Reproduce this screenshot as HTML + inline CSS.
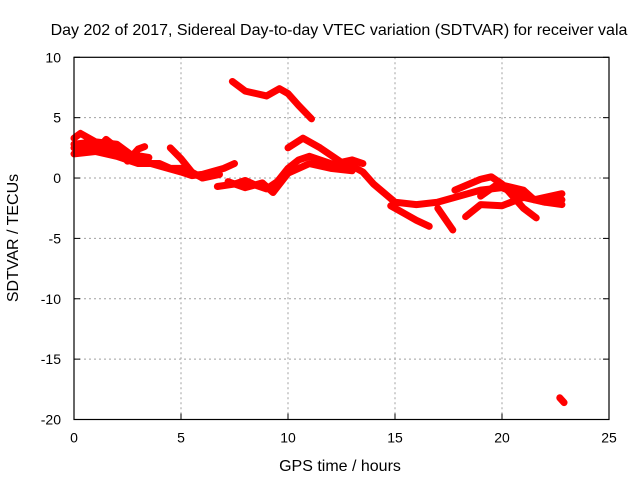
<!DOCTYPE html>
<html><head><meta charset="utf-8"><style>
body{margin:0;background:#fff;}
svg{display:block;font-family:"Liberation Sans",sans-serif;}
</style></head><body>
<svg id="chart" width="640" height="480">
<text x="339" y="35" text-anchor="middle" font-size="16">Day 202 of 2017, Sidereal Day-to-day VTEC variation (SDTVAR) for receiver vala</text>
<text x="340" y="471" text-anchor="middle" font-size="16">GPS time / hours</text>
<text transform="translate(18,238) rotate(-90)" text-anchor="middle" font-size="16">SDTVAR / TECUs</text>
<g id="grid"></g><g id="series"></g><g id="axes"></g>
</svg>
<script>
const xTicks=[0,5,10,15,20,25];
const yTicks=[10,5,0,-5,-10,-15,-20];
const trackTopT=[7.4,8,8.5,9,9.6,10,10.5,11.1];
const trackTopV=[8.0,7.2,7.0,6.8,7.4,7.0,6.0,4.9];
const trackB1T=[0,0.3,1,2,3,4,5,5.5,6,7,7.5];
const trackB1V=[3.3,3.7,3.0,2.8,1.5,1.0,0.5,0.2,0.3,0.8,1.2];
const trackB2T=[0,1,2,3,4,4.5,5,5.8,6.5];
const trackB2V=[2.5,2.2,1.8,1.2,1.2,0.8,0.8,0.2,0.4];
const trackB3T=[0,1,1.5,2,2.5,3,3.3];
const trackB3V=[2.0,2.2,3.2,2.5,1.4,2.4,2.6];
const trackB5T=[0,0.5,1.2,2,2.8,3.5];
const trackB5V=[2.8,2.9,2.6,2.2,1.9,1.7];
const trackB4T=[4.5,5,5.5,6,6.8];
const trackB4V=[2.5,1.6,0.5,0.0,0.3];
const trackCT=[6.7,7.5,8,8.5,9,9.5,10,10.5,11,12,13,13.5,14,15,16,17,18,19,20,21,22,22.8];
const trackCV=[-0.7,-0.5,-0.2,-0.6,-0.9,-0.3,0.8,1.5,1.8,1.2,1.0,0.5,-0.5,-2.0,-2.2,-2.0,-1.5,-1.0,-0.8,-1.5,-2.0,-1.8];
const trackC2T=[7.2,8,8.8,9.3,10,11,12,13];
const trackC2V=[-0.3,-0.8,-0.4,-1.2,0.4,1.2,0.8,0.6];
const trackDT=[10,10.7,11.5,12.5,13,13.5];
const trackDV=[2.5,3.3,2.5,1.3,1.5,1.2];
const trackE1T=[14.8,15.5,16,16.6];
const trackE1V=[-2.3,-3.0,-3.5,-4.0];
const trackE2T=[17,17.7];
const trackE2V=[-2.5,-4.3];
const trackE3T=[17.8,19,19.5,20,21,21.6];
const trackE3V=[-1.0,-0.1,0.1,-0.5,-2.5,-3.3];
const trackE4T=[18.3,19,20,21,22,22.8];
const trackE4V=[-3.2,-2.2,-2.3,-1.6,-2.0,-2.2];
const trackE5T=[19,19.8,21,21.5,22.8];
const trackE5V=[-1.5,-0.5,-1.0,-1.8,-1.3];
const trackOutT=[22.7,22.9];
const trackOutV=[-18.2,-18.6];
const tracks=[[trackTopT,trackTopV],[trackB1T,trackB1V],[trackB2T,trackB2V],[trackB3T,trackB3V],[trackB5T,trackB5V],[trackB4T,trackB4V],[trackCT,trackCV],[trackC2T,trackC2V],[trackDT,trackDV],[trackE1T,trackE1V],[trackE2T,trackE2V],[trackE3T,trackE3V],[trackE4T,trackE4V],[trackE5T,trackE5V],[trackOutT,trackOutV]];
const L=74,R=609,T=57.3,B=419.5;
const sx=v=>L+(v-0)/(25-0)*(R-L);
const sy=v=>T+(10-v)/(10-(-20))*(B-T);
const NS="http://www.w3.org/2000/svg";
const grid=document.getElementById('grid'),axes=document.getElementById('axes'),ser=document.getElementById('series');
function mk(tag,attrs,parent){const e=document.createElementNS(NS,tag);for(const k in attrs)e.setAttribute(k,attrs[k]);parent.appendChild(e);return e;}
xTicks.forEach(t=>{
  if(t>0&&t<25){const g=mk('line',{x1:sx(t),x2:sx(t),y1:T,y2:B,stroke:'#a0a0a0','stroke-dasharray':'2,3'},grid);
  
  }
  const tk=mk('line',{x1:sx(t),x2:sx(t),y1:B,y2:B-6,stroke:'#000'},axes);
  
  
  const tx=mk('text',{x:sx(t),y:B+23,'text-anchor':'middle','font-size':14},axes);tx.textContent=t;
  
  
});
yTicks.forEach(t=>{
  if(t<10&&t>-20){const g=mk('line',{x1:L,x2:R,y1:sy(t),y2:sy(t),stroke:'#a0a0a0','stroke-dasharray':'2,3'},grid);
  
  }
  const tk=mk('line',{x1:L,x2:L+6,y1:sy(t),y2:sy(t),stroke:'#000'},axes);
  
  
  const tk2=mk('line',{x1:R,x2:R-6,y1:sy(t),y2:sy(t),stroke:'#000'},axes);
  
  
  const tx=mk('text',{x:L-13,y:sy(t)+5,'text-anchor':'end','font-size':14},axes);tx.textContent=t;
  
  
});
const fr=mk('rect',{x:L,y:T,width:R-L,height:B-T,fill:'none',stroke:'#000','stroke-width':1.2},axes);


tracks.forEach(tr=>{
  const pts=tr[0].map((t,i)=>sx(t)+','+sy(tr[1][i])).join(' ');
  const p=mk('polyline',{points:pts,fill:'none',stroke:'#ff0000','stroke-width':7,'stroke-linejoin':'round','stroke-linecap':'round'},ser);
  
  
});
</script>
</body></html>
